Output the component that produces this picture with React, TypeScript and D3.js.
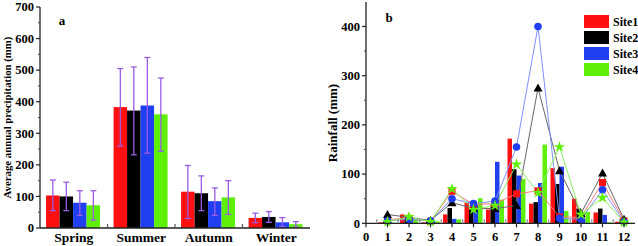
import React from "react";
import * as d3 from "d3";

const seasons = ["Spring", "Summer", "Autumn", "Winter"];
const sites = ["Site1", "Site2", "Site3", "Site4"];
const siteColors = ["#ff1010", "#000000", "#1f3ff0", "#5ff00a"];
const lineColors = ["#ff7a7a", "#666666", "#7f90ff", "#8cf060"];

// seasonal mean per site [season][site]
const seasonMean = [
  [103, 100, 80, 72],
  [383, 372, 388, 360],
  [115, 110, 85, 97],
  [32, 35, 18, 12],
];
const seasonUpper = [
  [152, 145, 118, 118],
  [505, 510, 540, 475],
  [198, 165, 127, 150],
  [47, 52, 33, 20],
];
const seasonLower = [
  [55, 55, 40, 25],
  [260, 232, 237, 243],
  [30, 55, 40, 43],
  [17, 18, 5, 3],
];

const months = [1, 2, 3, 4, 5, 6, 7, 8, 9, 10, 11, 12];
// monthly bars per site
const barSite1 = [2, 18, 2, 18, 42, 28, 172, 40, 112, 50, 22, 3];
const barSite2 = [3, 12, 3, 31, 28, 38, 110, 43, 80, 30, 30, 8];
const barSite3 = [2, 10, 4, 9, 38, 125, 97, 82, 115, 10, 17, 2];
const barSite4 = [1, 8, 4, 8, 51, 48, 90, 160, 25, 23, 2, 1];
// monthly lines per site
const lineSite1 = [8, 10, 4, 65, 38, 40, 60, 66, 13, 12, 83, 5];
const lineSite2 = [18, 12, 6, 42, 30, 30, 36, 275, 107, 20, 102, 8];
const lineSite3 = [5, 8, 5, 50, 40, 45, 155, 400, 10, 8, 68, 3];
const lineSite4 = [3, 13, 3, 70, 28, 36, 120, 62, 155, 18, 52, 2];

const leftTicks = [0, 100, 200, 300, 400, 500, 600, 700];
const rightTicks = [0, 100, 200, 300, 400];
const rightXTicks = [0, 1, 2, 3, 4, 5, 6, 7, 8, 9, 10, 11, 12];

const FONT = "'Liberation Serif', 'Times New Roman', serif";

function Marker({ kind, x, y, color }: { kind: number; x: number; y: number; color: string }) {
  if (kind === 0) return <rect x={x - 3.5} y={y - 3.5} width={7} height={7} fill={color} />;
  if (kind === 1)
    return <path d={`M${x},${y - 4.5}L${x + 4.5},${y + 3.5}L${x - 4.5},${y + 3.5}Z`} fill={color} />;
  if (kind === 2) return <circle cx={x} cy={y} r={3.8} fill={color} />;
  const star = d3.symbol().type(d3.symbolStar).size(40)();
  return <path d={star || ""} transform={`translate(${x},${y})`} fill={color} />;
}

export default function App() {
  // Left chart
  const xL = d3.scaleBand<string>().domain(seasons).range([40, 310]);
  const yL = d3.scaleLinear().domain([0, 700]).range([228, 7]);
  const bwL = xL.bandwidth();
  const xInner = d3.scaleBand<string>().domain(sites).range([bwL * 0.09, bwL * 0.89]);
  const leftMinor = d3.range(50, 700, 100);

  // Right chart
  const xR = d3.scaleLinear().domain([0, 12.5]).range([366, 634.75]);
  const yR = d3.scaleLinear().domain([0, 450]).range([223.3, 1.9]);
  const groupW = 18;
  const xBar = d3.scaleBand<string>().domain(sites).range([-groupW / 2, groupW / 2]);
  const barData = [barSite1, barSite2, barSite3, barSite4];
  const lineData = [lineSite1, lineSite2, lineSite3, lineSite4];
  const line = d3
    .line<number>()
    .x((_, i) => xR(months[i]))
    .y((d) => yR(d));
  const rightMinorY = d3.range(50, 450, 100);
  const rightMinorX = d3.range(0.5, 12.5, 1);

  return (
    <svg width={638} height={246} style={{ position: "absolute", left: 0, top: 0, background: "#fff" }} fontFamily={FONT}>
      <rect width={638} height={246} fill="#fff" />
      {/* LEFT */}
      {seasons.map((s, si) =>
        sites.map((site, k) => {
          const x0 = (xL(s) || 0) + (xInner(site) || 0);
          const w = xInner.bandwidth();
          return (
            <rect
              key={s + site}
              x={x0}
              y={yL(seasonMean[si][k])}
              width={w}
              height={yL(0) - yL(seasonMean[si][k])}
              fill={siteColors[k]}
            />
          );
        })
      )}
      {seasons.map((s, si) =>
        sites.map((site, k) => {
          const cx = (xL(s) || 0) + (xInner(site) || 0) + xInner.bandwidth() / 2;
          const yt = yL(seasonUpper[si][k]);
          const yb = yL(seasonLower[si][k]);
          return (
            <g key={"e" + s + site} stroke="#9a5ce6" strokeWidth={1.3}>
              <line x1={cx} x2={cx} y1={yt} y2={yb} />
              <line x1={cx - 3} x2={cx + 3} y1={yt} y2={yt} />
              <line x1={cx - 3} x2={cx + 3} y1={yb} y2={yb} />
            </g>
          );
        })
      )}
      <line x1={40} x2={40} y1={yL(700)} y2={yL(0)} stroke="#222" strokeWidth={1.3} />
      <line x1={40} x2={310} y1={yL(0)} y2={yL(0)} stroke="#222" strokeWidth={1.3} />
      {leftTicks.map((t) => (
        <g key={"lt" + t}>
          <line x1={36} x2={40} y1={yL(t)} y2={yL(t)} stroke="#222" strokeWidth={1.2} />
          <text x={34} y={yL(t) + 4.3} textAnchor="end" fontSize={12.5} fontWeight="bold">
            {t}
          </text>
        </g>
      ))}
      {leftMinor.map((t) => (
        <line key={"lm" + t} x1={38} x2={40} y1={yL(t)} y2={yL(t)} stroke="#444" strokeWidth={1} />
      ))}
      {seasons.slice(1).map((s) => (
        <line key={"sep" + s} x1={xL(s) || 0} x2={xL(s) || 0} y1={yL(0)} y2={yL(0) - 4} stroke="#555" strokeWidth={1.2} />
      ))}
      {seasons.map((s) => (
        <text key={"sl" + s} x={(xL(s) || 0) + bwL / 2} y={242} textAnchor="middle" fontSize={13.5} fontWeight="bold">
          {s}
        </text>
      ))}
      <text x={62} y={25} fontSize={13} fontWeight="bold" textAnchor="middle">
        a
      </text>
      <text
        transform={`translate(11,${(yL(0) + yL(700)) / 2 + 0}) rotate(-90)`}
        textAnchor="middle"
        fontSize={10.8}
        fontWeight="bold"
      >
        Average annual precipitation (mm)
      </text>

      {/* RIGHT */}
      {months.map((m, i) =>
        sites.map((site, k) => (
          <rect
            key={"rb" + m + site}
            x={xR(m) + (xBar(site) || 0)}
            y={yR(barData[k][i])}
            width={xBar.bandwidth()}
            height={yR(0) - yR(barData[k][i])}
            fill={siteColors[k]}
          />
        ))
      )}
      {lineData.map((ld, k) => (
        <path key={"ln" + k} d={line(ld) || ""} fill="none" stroke={lineColors[k]} strokeWidth={1} />
      ))}
      {lineData.map((ld, k) =>
        ld.map((v, i) => <Marker key={"mk" + k + i} kind={k} x={xR(months[i])} y={yR(v)} color={siteColors[k]} />)
      )}
      <line x1={366} x2={366} y1={yR(450)} y2={yR(0)} stroke="#222" strokeWidth={1.3} />
      <line x1={366} x2={635} y1={yR(0)} y2={yR(0)} stroke="#222" strokeWidth={1.3} />
      {rightTicks.map((t) => (
        <g key={"rt" + t}>
          <line x1={362} x2={366} y1={yR(t)} y2={yR(t)} stroke="#222" strokeWidth={1.2} />
          <text x={360} y={yR(t) + 4.3} textAnchor="end" fontSize={12.5} fontWeight="bold">
            {t}
          </text>
        </g>
      ))}
      {rightMinorY.map((t) => (
        <line key={"rm" + t} x1={364} x2={366} y1={yR(t)} y2={yR(t)} stroke="#444" strokeWidth={1} />
      ))}
      {rightXTicks.map((t) => (
        <g key={"rx" + t}>
          <line x1={xR(t)} x2={xR(t)} y1={yR(0)} y2={yR(0) + 4} stroke="#222" strokeWidth={1.2} />
          <text x={xR(t)} y={241} textAnchor="middle" fontSize={12.5} fontWeight="bold">
            {t}
          </text>
        </g>
      ))}
      {rightMinorX.map((t) => (
        <line key={"rmx" + t} x1={xR(t)} x2={xR(t)} y1={yR(0)} y2={yR(0) - 4} stroke="#888" strokeWidth={1.2} />
      ))}
      <text x={389} y={22} fontSize={13} fontWeight="bold" textAnchor="middle">
        b
      </text>
      <text transform={`translate(337,${123}) rotate(-90)`} textAnchor="middle" fontSize={13} fontWeight="bold">
        Rainfall (mm)
      </text>
      {sites.map((s, k) => (
        <g key={"lg" + s}>
          <rect x={584} y={15 + k * 16} width={25} height={13} fill={siteColors[k]} />
          <text x={613} y={15 + k * 16 + 10.5} fontSize={12} fontWeight="bold">
            {s}
          </text>
        </g>
      ))}
    </svg>
  );
}
